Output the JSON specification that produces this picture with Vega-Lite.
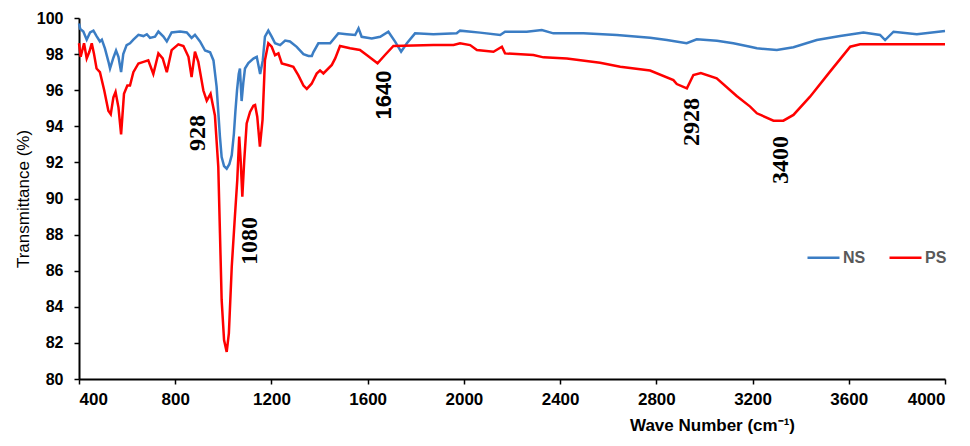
{
  "$schema": "https://vega.github.io/schema/vega-lite/v6.json",
  "width": 866,
  "height": 361,
  "autosize": {"type": "none"},
  "padding": {"left": 79, "top": 18, "right": 25, "bottom": 67},
  "background": "white",
  "config": {
    "view": {"stroke": null},
    "axis": {"grid": false, "domainColor": "black", "domainWidth": 2, "tickColor": "black", "tickWidth": 1.5, "tickSize": 5,
      "labelFont": "Liberation Sans", "labelFontWeight": "bold", "labelFontSize": 17, "labelColor": "black", "labelOverlap": false,
      "titleFont": "Liberation Sans", "titleColor": "black"}
  },
  "datasets": {
    "spectra": [
      {"s":"NS","wn":400,"t":99.7},{"s":"NS","wn":405,"t":99.4},{"s":"NS","wn":418,"t":99.25},{"s":"NS","wn":432,"t":98.8},{"s":"NS","wn":446,"t":99.2},{"s":"NS","wn":460,"t":99.3},{"s":"NS","wn":473,"t":99.0},{"s":"NS","wn":487,"t":98.7},{"s":"NS","wn":495,"t":98.8},{"s":"NS","wn":508,"t":98.3},{"s":"NS","wn":522,"t":97.6},{"s":"NS","wn":529,"t":97.2},{"s":"NS","wn":543,"t":97.8},{"s":"NS","wn":554,"t":98.2},{"s":"NS","wn":564,"t":97.85},{"s":"NS","wn":575,"t":97.0},{"s":"NS","wn":584,"t":98.0},{"s":"NS","wn":598,"t":98.5},{"s":"NS","wn":612,"t":98.6},{"s":"NS","wn":626,"t":98.8},{"s":"NS","wn":647,"t":99.07},{"s":"NS","wn":668,"t":99.0},{"s":"NS","wn":682,"t":99.1},{"s":"NS","wn":695,"t":98.9},{"s":"NS","wn":716,"t":98.97},{"s":"NS","wn":730,"t":99.25},{"s":"NS","wn":751,"t":98.97},{"s":"NS","wn":765,"t":98.7},{"s":"NS","wn":785,"t":99.2},{"s":"NS","wn":820,"t":99.25},{"s":"NS","wn":848,"t":99.2},{"s":"NS","wn":868,"t":98.9},{"s":"NS","wn":882,"t":99.07},{"s":"NS","wn":903,"t":98.7},{"s":"NS","wn":924,"t":98.2},{"s":"NS","wn":945,"t":98.1},{"s":"NS","wn":959,"t":97.65},{"s":"NS","wn":972,"t":96.2},{"s":"NS","wn":979,"t":94.8},{"s":"NS","wn":986,"t":93.4},{"s":"NS","wn":993,"t":92.3},{"s":"NS","wn":1003,"t":91.8},{"s":"NS","wn":1014,"t":91.65},{"s":"NS","wn":1025,"t":91.9},{"s":"NS","wn":1035,"t":92.4},{"s":"NS","wn":1044,"t":93.6},{"s":"NS","wn":1050,"t":94.8},{"s":"NS","wn":1057,"t":96.0},{"s":"NS","wn":1064,"t":96.9},{"s":"NS","wn":1069,"t":97.2},{"s":"NS","wn":1076,"t":95.4},{"s":"NS","wn":1083,"t":96.4},{"s":"NS","wn":1090,"t":97.2},{"s":"NS","wn":1104,"t":97.5},{"s":"NS","wn":1125,"t":97.75},{"s":"NS","wn":1139,"t":97.85},{"s":"NS","wn":1153,"t":96.9},{"s":"NS","wn":1164,"t":97.65},{"s":"NS","wn":1173,"t":98.97},{"s":"NS","wn":1187,"t":99.3},{"s":"NS","wn":1201,"t":98.97},{"s":"NS","wn":1215,"t":98.6},{"s":"NS","wn":1236,"t":98.5},{"s":"NS","wn":1257,"t":98.75},{"s":"NS","wn":1277,"t":98.7},{"s":"NS","wn":1305,"t":98.4},{"s":"NS","wn":1333,"t":98.0},{"s":"NS","wn":1354,"t":97.9},{"s":"NS","wn":1368,"t":97.9},{"s":"NS","wn":1374,"t":98.1},{"s":"NS","wn":1395,"t":98.6},{"s":"NS","wn":1444,"t":98.6},{"s":"NS","wn":1478,"t":99.15},{"s":"NS","wn":1513,"t":99.1},{"s":"NS","wn":1548,"t":99.06},{"s":"NS","wn":1562,"t":99.43},{"s":"NS","wn":1575,"t":98.96},{"s":"NS","wn":1617,"t":98.87},{"s":"NS","wn":1652,"t":98.96},{"s":"NS","wn":1686,"t":99.24},{"s":"NS","wn":1714,"t":98.69},{"s":"NS","wn":1739,"t":98.13},{"s":"NS","wn":1763,"t":98.6},{"s":"NS","wn":1797,"t":99.15},{"s":"NS","wn":1873,"t":99.1},{"s":"NS","wn":1970,"t":99.15},{"s":"NS","wn":1984,"t":99.3},{"s":"NS","wn":2067,"t":99.19},{"s":"NS","wn":2151,"t":99.06},{"s":"NS","wn":2171,"t":99.24},{"s":"NS","wn":2261,"t":99.24},{"s":"NS","wn":2324,"t":99.33},{"s":"NS","wn":2372,"t":99.15},{"s":"NS","wn":2497,"t":99.15},{"s":"NS","wn":2636,"t":99.06},{"s":"NS","wn":2774,"t":98.9},{"s":"NS","wn":2844,"t":98.78},{"s":"NS","wn":2926,"t":98.6},{"s":"NS","wn":2968,"t":98.82},{"s":"NS","wn":3052,"t":98.74},{"s":"NS","wn":3120,"t":98.6},{"s":"NS","wn":3190,"t":98.41},{"s":"NS","wn":3218,"t":98.32},{"s":"NS","wn":3301,"t":98.23},{"s":"NS","wn":3370,"t":98.38},{"s":"NS","wn":3467,"t":98.78},{"s":"NS","wn":3564,"t":99.0},{"s":"NS","wn":3661,"t":99.19},{"s":"NS","wn":3730,"t":99.06},{"s":"NS","wn":3751,"t":98.78},{"s":"NS","wn":3786,"t":99.24},{"s":"NS","wn":3883,"t":99.1},{"s":"NS","wn":4000,"t":99.28},
      {"s":"PS","wn":400,"t":98.6},{"s":"PS","wn":407,"t":97.85},{"s":"PS","wn":421,"t":98.6},{"s":"PS","wn":432,"t":97.76},{"s":"PS","wn":443,"t":98.13},{"s":"PS","wn":453,"t":98.6},{"s":"PS","wn":462,"t":98.04},{"s":"PS","wn":473,"t":97.2},{"s":"PS","wn":487,"t":97.0},{"s":"PS","wn":505,"t":95.98},{"s":"PS","wn":522,"t":94.86},{"s":"PS","wn":532,"t":94.67},{"s":"PS","wn":543,"t":95.6},{"s":"PS","wn":552,"t":95.9},{"s":"PS","wn":564,"t":95.05},{"s":"PS","wn":575,"t":93.55},{"s":"PS","wn":587,"t":95.8},{"s":"PS","wn":601,"t":96.26},{"s":"PS","wn":612,"t":96.26},{"s":"PS","wn":626,"t":97.0},{"s":"PS","wn":647,"t":97.48},{"s":"PS","wn":668,"t":97.57},{"s":"PS","wn":688,"t":97.66},{"s":"PS","wn":709,"t":96.9},{"s":"PS","wn":730,"t":98.04},{"s":"PS","wn":748,"t":97.76},{"s":"PS","wn":765,"t":97.0},{"s":"PS","wn":785,"t":98.22},{"s":"PS","wn":813,"t":98.54},{"s":"PS","wn":834,"t":98.45},{"s":"PS","wn":855,"t":97.85},{"s":"PS","wn":868,"t":96.73},{"s":"PS","wn":882,"t":98.13},{"s":"PS","wn":896,"t":97.57},{"s":"PS","wn":917,"t":95.98},{"s":"PS","wn":931,"t":95.42},{"s":"PS","wn":947,"t":95.8},{"s":"PS","wn":965,"t":94.6},{"s":"PS","wn":979,"t":91.76},{"s":"PS","wn":986,"t":88.07},{"s":"PS","wn":993,"t":84.38},{"s":"PS","wn":1003,"t":82.16},{"s":"PS","wn":1014,"t":81.5},{"s":"PS","wn":1023,"t":82.53},{"s":"PS","wn":1035,"t":86.22},{"s":"PS","wn":1048,"t":88.99},{"s":"PS","wn":1058,"t":91.03},{"s":"PS","wn":1066,"t":93.43},{"s":"PS","wn":1072,"t":92.13},{"s":"PS","wn":1079,"t":90.1},{"s":"PS","wn":1087,"t":92.13},{"s":"PS","wn":1097,"t":94.16},{"s":"PS","wn":1111,"t":94.8},{"s":"PS","wn":1125,"t":95.14},{"s":"PS","wn":1132,"t":95.18},{"s":"PS","wn":1141,"t":94.53},{"s":"PS","wn":1152,"t":92.87},{"s":"PS","wn":1163,"t":94.35},{"s":"PS","wn":1173,"t":97.66},{"s":"PS","wn":1187,"t":98.6},{"s":"PS","wn":1201,"t":98.41},{"s":"PS","wn":1215,"t":97.94},{"s":"PS","wn":1229,"t":98.04},{"s":"PS","wn":1243,"t":97.48},{"s":"PS","wn":1270,"t":97.38},{"s":"PS","wn":1291,"t":97.29},{"s":"PS","wn":1312,"t":96.82},{"s":"PS","wn":1333,"t":96.26},{"s":"PS","wn":1347,"t":96.07},{"s":"PS","wn":1367,"t":96.36},{"s":"PS","wn":1388,"t":96.92},{"s":"PS","wn":1402,"t":97.1},{"s":"PS","wn":1416,"t":96.93},{"s":"PS","wn":1451,"t":97.4},{"s":"PS","wn":1465,"t":97.76},{"s":"PS","wn":1485,"t":98.45},{"s":"PS","wn":1527,"t":98.32},{"s":"PS","wn":1568,"t":98.23},{"s":"PS","wn":1596,"t":97.95},{"s":"PS","wn":1641,"t":97.49},{"s":"PS","wn":1672,"t":97.95},{"s":"PS","wn":1707,"t":98.45},{"s":"PS","wn":1873,"t":98.5},{"s":"PS","wn":1957,"t":98.5},{"s":"PS","wn":1984,"t":98.6},{"s":"PS","wn":2026,"t":98.5},{"s":"PS","wn":2054,"t":98.23},{"s":"PS","wn":2123,"t":98.13},{"s":"PS","wn":2158,"t":98.41},{"s":"PS","wn":2171,"t":98.04},{"s":"PS","wn":2289,"t":97.95},{"s":"PS","wn":2331,"t":97.82},{"s":"PS","wn":2428,"t":97.76},{"s":"PS","wn":2566,"t":97.52},{"s":"PS","wn":2650,"t":97.3},{"s":"PS","wn":2774,"t":97.09},{"s":"PS","wn":2871,"t":96.56},{"s":"PS","wn":2885,"t":96.34},{"s":"PS","wn":2927,"t":96.1},{"s":"PS","wn":2954,"t":96.84},{"s":"PS","wn":2985,"t":96.95},{"s":"PS","wn":3051,"t":96.66},{"s":"PS","wn":3134,"t":95.68},{"s":"PS","wn":3190,"t":95.09},{"s":"PS","wn":3218,"t":94.72},{"s":"PS","wn":3287,"t":94.31},{"s":"PS","wn":3328,"t":94.31},{"s":"PS","wn":3370,"t":94.63},{"s":"PS","wn":3439,"t":95.64},{"s":"PS","wn":3522,"t":97.03},{"s":"PS","wn":3606,"t":98.41},{"s":"PS","wn":3647,"t":98.54},{"s":"PS","wn":3744,"t":98.54},{"s":"PS","wn":4000,"t":98.54}
    ],
    "peaks": [
      {"label":"928","wn":895,"t":93.63},
      {"label":"1080","wn":1111,"t":87.65},
      {"label":"1640","wn":1668,"t":95.73},
      {"label":"2928","wn":2948,"t":94.24},
      {"label":"3400","wn":3318,"t":92.13}
    ]
  },
  "encoding": {
    "x": {"field": "wn", "type": "quantitative",
      "scale": {"domain": [400, 4000], "nice": false, "zero": false},
      "axis": {"values": [400,800,1200,1600,2000,2400,2800,3200,3600,4000], "format": "d", "labelPadding": 7, "labelOverlap": false,
        "title": "Wave Number (cm⁻¹)", "titleFontSize": 17, "titleFontWeight": "bold",
        "titleX": 633, "titleY": 46, "titleAlign": "center", "titleBaseline": "middle"}},
    "y": {"field": "t", "type": "quantitative",
      "scale": {"domain": [80, 100], "nice": false, "zero": false},
      "axis": {"values": [80,82,84,86,88,90,92,94,96,98,100], "format": "d", "labelPadding": 11, "labelOverlap": false,
        "labelFontSize": 16,
        "title": "Transmittance (%)", "titleFontSize": 17, "titleFontWeight": "normal", "titlePadding": 4}}
  },
  "layer": [
    {
      "data": {"name": "spectra"},
      "mark": {"type": "line", "strokeWidth": 2.5, "interpolate": "linear"},
      "encoding": {
        "color": {"field": "s", "type": "nominal",
          "scale": {"domain": ["NS", "PS"], "range": ["#3B7DC4", "#FF0000"]},
          "legend": {"title": null, "orient": "none", "legendX": 727, "legendY": 222, "direction": "horizontal",
            "symbolType": "stroke", "symbolSize": 1024, "symbolStrokeWidth": 2.5,
            "labelFont": "Liberation Sans", "labelFontSize": 16, "labelFontWeight": "bold", "labelColor": "#595959",
            "labelOffset": 2, "columnPadding": 18}},
        "order": {"field": "wn", "type": "quantitative"}
      }
    },
    {
      "data": {"name": "peaks"},
      "transform": [{"filter": "datum.label != '1640'"}],
      "mark": {"type": "text", "font": "Liberation Serif", "fontWeight": "bold", "fontSize": 24, "angle": 270, "align": "center", "baseline": "middle", "color": "black"},
      "encoding": {
        "text": {"field": "label"}
      }
    },
    {
      "data": {"name": "peaks"},
      "transform": [{"filter": "datum.label == '1640'"}],
      "mark": {"type": "text", "font": "Liberation Sans", "fontWeight": "bold", "fontSize": 22, "angle": 270, "align": "center", "baseline": "middle", "color": "black"},
      "encoding": {
        "text": {"field": "label"}
      }
    }
  ]
}
